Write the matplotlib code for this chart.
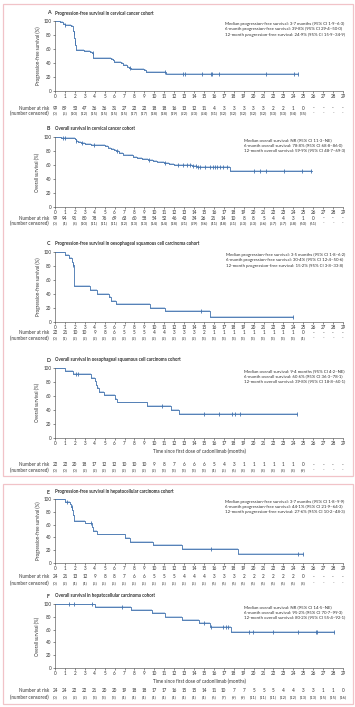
import numpy as np
import matplotlib
matplotlib.use('Agg')
import matplotlib.pyplot as plt
from matplotlib.patches import Rectangle
from matplotlib.transforms import blended_transform_factory

plt.rcParams['font.family'] = ['Lato', 'DejaVu Sans']

# ---------------- data ----------------
months = list(range(30))

# A: PFS cervical
A_time = [0, 0.5, 0.8, 1.0, 1.3, 1.6, 1.8, 1.85, 1.9, 1.95, 2.0, 2.05, 2.1, 2.3, 2.9, 3.5, 3.7, 3.85, 5.6, 5.8, 5.95, 6.6, 6.8, 7.3, 7.5, 7.7, 9.0, 9.2, 11.2]
A_surv = [100, 98, 96, 95, 94, 93, 90, 86, 83, 75, 70, 66, 59, 58, 57, 56, 54, 47, 46, 44, 41, 40, 37, 35, 33, 32, 30, 27, 25]
A_end = 24.5
A_cens = [1.0, 1.9, 2.0, 3.8, 7.6, 11.1, 12.9, 13.1, 14.8, 15.7, 15.8, 16.5, 21.2, 24.1, 24.5]
A_risk = [99, 89, 53, 47, 36, 36, 31, 27, 22, 22, 18, 18, 16, 13, 12, 11, 4, 3, 3, 3, 3, 3, 2, 2, 1, 0]
A_ncens = [0, 5, 10, 12, 15, 15, 15, 15, 17, 17, 18, 18, 19, 22, 23, 24, 31, 32, 32, 32, 32, 32, 33, 33, 34, 35]

# B: OS cervical
B_time = [0, 0.6, 1.3, 2.0, 2.1, 2.3, 2.6, 3.0, 3.6, 4.7, 5.0, 5.3, 5.6, 5.9, 6.1, 6.4, 6.8, 7.4, 7.9, 8.3, 8.8, 9.4, 9.9, 10.3, 10.7, 11.0, 11.5, 11.8, 12.0, 13.8, 14.1, 14.3, 17.6]
B_surv = [100, 99, 98, 97, 95, 93, 91, 90, 89, 88, 87, 85, 83, 81, 80, 77, 75, 74, 72, 70, 69, 67, 66, 65, 64, 63, 62, 61, 60, 59, 58, 57, 52]
B_end = 25.9
B_cens = [0.8, 1.0, 2.1, 2.7, 3.9, 6.2, 9.5, 11.1, 12.4, 12.9, 13.3, 13.6, 13.9, 14.2, 14.4, 14.6, 15.1, 15.6, 15.9, 16.1, 16.3, 16.6, 16.9, 17.3, 20.0, 20.6, 21.2, 23.1, 24.9, 25.8]
B_risk = [99, 94, 91, 80, 78, 76, 69, 63, 60, 58, 54, 52, 46, 43, 34, 26, 21, 14, 10, 8, 8, 5, 4, 4, 3, 1, 0]
B_ncens = [0, 4, 8, 10, 11, 11, 11, 12, 13, 13, 14, 14, 18, 21, 29, 36, 41, 48, 51, 53, 53, 56, 57, 57, 58, 60, 61]

# C: PFS oesophageal
C_time = [0, 1.0, 1.4, 1.7, 1.8, 1.9, 3.5, 4.2, 5.4, 5.6, 6.1, 9.6, 11.1, 15.6]
C_surv = [100, 95.5, 90.9, 86.4, 81.8, 51, 45.5, 40.4, 35.4, 30.3, 25.3, 20.2, 15.2, 7.6]
C_end = 24.0
C_cens = [1.8, 14.7, 24.0]
C_risk = [22, 21, 10, 10, 9, 8, 6, 5, 5, 5, 4, 4, 3, 3, 3, 2, 1, 1, 1, 1, 1, 1, 1, 1, 1, 0]
C_ncens = [0, 1, 2, 2, 2, 2, 2, 2, 2, 2, 2, 2, 2, 2, 2, 3, 3, 3, 3, 3, 3, 3, 3, 3, 3, 4]

# D: OS oesophageal
D_time = [0, 1.0, 1.8, 3.6, 4.0, 4.1, 4.2, 4.4, 4.9, 6.0, 6.2, 9.3, 11.7, 12.5]
D_surv = [100, 95.5, 90.9, 86.1, 81.1, 76.1, 71.0, 66.0, 60.9, 55.9, 50.8, 45.7, 40.0, 34.3]
D_end = 24.4
D_cens = [2.1, 2.3, 10.8, 15.0, 16.5, 17.8, 18.1, 18.6, 24.4]
D_risk = [22, 22, 20, 18, 17, 12, 12, 10, 10, 10, 9, 8, 7, 6, 6, 6, 5, 4, 3, 1, 1, 1, 1, 1, 1, 0]
D_ncens = [0, 0, 0, 2, 2, 2, 2, 2, 2, 2, 2, 3, 3, 3, 3, 3, 4, 5, 6, 8, 8, 8, 8, 8, 8, 9]

# E: PFS hepatocellular
E_time = [0, 1.0, 1.5, 1.6, 1.75, 1.85, 1.9, 3.0, 3.7, 3.8, 4.2, 7.0, 7.6, 9.9, 12.8, 18.4]
E_surv = [100, 95.8, 91.5, 87.0, 83.0, 75.0, 66.0, 61.8, 55.6, 50.0, 44.7, 38.7, 33.0, 27.7, 22.1, 14.7]
E_end = 25.0
E_cens = [1.2, 1.7, 3.6, 15.7, 24.5, 25.0]
E_risk = [24, 21, 13, 12, 9, 8, 8, 7, 6, 6, 5, 5, 5, 4, 4, 4, 3, 3, 3, 2, 2, 2, 2, 2, 2, 0]
E_ncens = [0, 2, 4, 4, 5, 5, 5, 5, 5, 5, 5, 5, 5, 5, 5, 5, 6, 6, 6, 6, 6, 6, 6, 6, 6, 8]

# F: OS hepatocellular
F_time = [0, 4.0, 7.7, 9.8, 11.1, 12.8, 14.5, 15.6, 17.7]
F_surv = [100, 95.5, 90.5, 85.5, 80.4, 75.3, 70.0, 64.8, 56.7]
F_end = 28.1
F_cens = [1.4, 1.9, 3.7, 6.7, 15.0, 15.7, 16.9, 17.2, 17.4, 19.5, 19.9, 22.0, 24.5, 26.3, 26.4, 28.1]
F_risk = [24, 24, 22, 22, 21, 20, 20, 19, 18, 18, 17, 17, 16, 15, 15, 14, 11, 10, 7, 7, 5, 5, 5, 4, 4, 3, 3, 1, 1, 0]
F_ncens = [0, 0, 2, 2, 3, 3, 3, 4, 4, 4, 4, 4, 4, 4, 4, 4, 6, 7, 9, 9, 11, 11, 11, 12, 12, 13, 13, 15, 15, 16]

titles = [
    "Progression-free survival in cervical cancer cohort",
    "Overall survival in cervical cancer cohort",
    "Progression-free survival in oesophageal squamous cell carcinoma cohort",
    "Overall survival in oesophageal squamous cell carcinoma cohort",
    "Progression-free survival in hepatocellular carcinoma cohort",
    "Overall survival in hepatocellular carcinoma cohort",
]
letters = ["A", "B", "C", "D", "E", "F"]
ylabels = ["Progression-free survival (%)", "Overall survival (%)"] * 3
notes = [
    "Median progression-free survival: 3·7 months (95% CI 1·9–6·3)\n6-month progression-free survival: 39·8% (95% CI 29·4–50·0)\n12-month progression-free survival: 24·9% (95% CI 15·9–34·9)",
    "Median overall survival: NR (95% CI 11·3–NE)\n6-month overall survival: 78·8% (95% CI 68·8–86·0)\n12-month overall survival: 59·9% (95% CI 48·7–69·3)",
    "Median progression-free survival: 3·5 months (95% CI 1·8–6·2)\n6-month progression-free survival: 30·4% (95% CI 12·4–50·6)\n12-month progression-free survival: 15·2% (95% CI 3·8–33·8)",
    "Median overall survival: 9·4 months (95% CI 4·2–NE)\n6-month overall survival: 60·6% (95% CI 36·3–78·1)\n12-month overall survival: 39·8% (95% CI 18·8–60·1)",
    "Median progression-free survival: 3·7 months (95% CI 1·8–9·9)\n6-month progression-free survival: 44·1% (95% CI 21·9–64·3)\n12-month progression-free survival: 27·6% (95% CI 10·2–48·3)",
    "Median overall survival: NR (95% CI 14·5–NE)\n6-month overall survival: 95·2% (95% CI 70·7–99·3)\n12-month overall survival: 80·2% (95% CI 55·4–92·1)",
]
xlabel = "Time since first dose of cadonilimab (months)"

panels = [
    (A_time, A_surv, A_end, A_cens, A_risk, A_ncens),
    (B_time, B_surv, B_end, B_cens, B_risk, B_ncens),
    (C_time, C_surv, C_end, C_cens, C_risk, C_ncens),
    (D_time, D_surv, D_end, D_cens, D_risk, D_ncens),
    (E_time, E_surv, E_end, E_cens, E_risk, E_ncens),
    (F_time, F_surv, F_end, F_cens, F_risk, F_ncens),
]

# ---------------- layout (pixels) ----------------
W, H = 355, 707
# (axes top, axes bottom, title y, risk y, censored y, xlabel y or None)
geo = [
    (21, 91, 13, 108, 113, None),
    (137, 207, 129, 218, 223, None),
    (252, 322, 244, 333, 338, None),
    (368, 438, 360, 465, 470, 451),
    (499, 563, 492, 577, 583, None),
    (604, 668, 596, 691, 697, 681),
]
AX_L, AX_R = 55, 343

LINE = '#4272ae'
BAND = '#c3d5ea'
TXT = '#333333'
FS = 3.3
FS_NOTE = 3.15
FS_TITLE = 3.25

fig = plt.figure(figsize=(W / 100, H / 100), dpi=100)

# pink frames
for (y0, y1) in [(4, 476), (484, 704)]:
    fig.patches.append(Rectangle((3 / W, 1 - y1 / H), 350 / W, (y1 - y0) / H,
                                 transform=fig.transFigure, fill=False,
                                 edgecolor='#f1c3c8', lw=0.9))

def fy(p):
    return 1 - p / H

for i, (t, s, end, cens, risk, ncens) in enumerate(panels):
    top, bot, ty, ry, cy, xly = geo[i]
    ax = fig.add_axes([AX_L / W, fy(bot), (AX_R - AX_L) / W, (bot - top) / H])
    tt = np.array(list(t) + [end], dtype=float)
    ss = np.array(list(s) + [s[-1]], dtype=float)
    ax.fill_between(tt, ss - 1.3, ss + 1.3, step='post', color=BAND, lw=0, zorder=1)
    ax.step(tt, ss, where='post', color=LINE, lw=0.6, zorder=2)
    c = np.array(cens)
    idx = np.searchsorted(tt, c, side='right') - 1
    ax.plot(c, ss[idx], ls='none', marker='|', ms=2.2, mew=0.6, color=LINE, zorder=3,
            clip_on=False)
    ax.set_xlim(0, 29)
    ax.set_ylim(0, 100)
    ax.set_xticks(months)
    ax.set_yticks([0, 20, 40, 60, 80, 100])
    ax.tick_params(labelsize=FS, length=1.3, width=0.4, pad=1.2, colors=TXT)
    for sp in ['top', 'right']:
        ax.spines[sp].set_visible(False)
    for sp in ['left', 'bottom']:
        ax.spines[sp].set_linewidth(0.45)
        ax.spines[sp].set_color('#555555')
    ax.patch.set_alpha(0)
    ax.set_ylabel(ylabels[i], fontsize=FS, color=TXT, labelpad=2)
    # title
    fig.text(47 / W, fy(ty), letters[i], fontsize=FS_TITLE + 0.5, fontweight='bold', color=TXT,
             va='center', ha='left')
    fig.text(AX_L / W, fy(ty), titles[i], fontsize=FS_TITLE, fontweight='bold', color=TXT,
             va='center', ha='left')
    # annotation
    ax.text(1.007, 0.985, notes[i], transform=ax.transAxes, ha='right', va='top',
            multialignment='left', fontsize=FS_NOTE, color=TXT, linespacing=1.4)
    # x label
    if xly is not None:
        fig.text((AX_L + AX_R) / 2 / W, fy(xly), xlabel, fontsize=FS, color=TXT,
                 ha='center', va='center')
    # number at risk table
    tr = blended_transform_factory(ax.transData, fig.transFigure)
    fig.text(49 / W, fy(ry), "Number at risk", fontsize=FS, color=TXT, ha='right', va='center')
    fig.text(49 / W, fy(cy), "(number censored)", fontsize=FS, color=TXT, ha='right', va='center')
    for m in months:
        if m < len(risk):
            r_txt = str(risk[m])
            c_txt = "(" + str(ncens[m]) + ")"
        else:
            r_txt = "-"
            c_txt = "-"
        ax.text(m, fy(ry), r_txt, transform=tr, fontsize=FS, color=TXT, ha='center', va='center')
        ax.text(m, fy(cy), c_txt, transform=tr, fontsize=FS * 0.92, color=TXT, ha='center', va='center')

fig.savefig('out.png', dpi=100)
